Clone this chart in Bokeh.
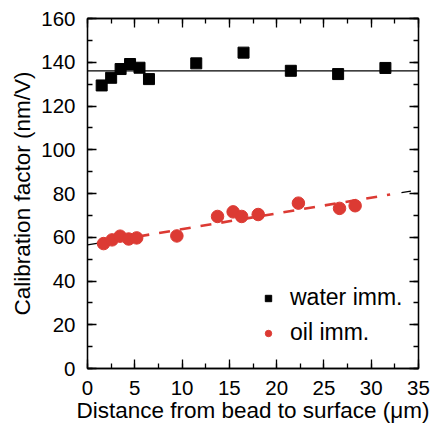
from bokeh.plotting import figure
from bokeh.models import (LinearAxis, SingleIntervalTicker, Range1d, Legend, LegendItem,
                          CustomJSTickFormatter)
from bokeh.embed import file_html
from bokeh.resources import INLINE

# ---- data ----
water_x = [1.5, 2.5, 3.5, 4.5, 5.5, 6.5, 11.5, 16.5, 21.5, 26.5, 31.5]
water_y = [129.4, 132.9, 136.9, 139.2, 137.5, 132.3, 139.5, 144.4, 136.1, 134.6, 137.4]
oil_x = [1.7, 2.6, 3.45, 4.35, 5.2, 9.45, 13.75, 15.4, 16.3, 18.05, 22.3, 26.65, 28.3]
oil_y = [57.1, 58.8, 60.5, 59.2, 59.7, 60.6, 69.5, 71.6, 69.5, 70.4, 75.6, 73.2, 74.4]
water_mean = 136.1
oil_fit_intercept = 56.5
oil_fit_slope = 0.72
oil_fit_red_x = [1.0, 32.0]
oil_fit_black_left_x = [0.0, 1.0]
oil_fit_black_right_x = [33.2, 34.2]
x_range = (0, 35)
y_range = (0, 160)

FONT = "Liberation Sans"
RED = "#dc3a33"

p = figure(width=432, height=425, output_backend="svg", toolbar_location=None,
           x_range=Range1d(*x_range), y_range=Range1d(*y_range),
           min_border_left=87, min_border_right=14, min_border_top=18, min_border_bottom=40)
p.background_fill_color = "white"
p.border_fill_color = "white"
p.outline_line_color = "black"
p.outline_line_width = 1.3
p.grid.visible = False

xt = SingleIntervalTicker(interval=5, num_minor_ticks=2)
yt = SingleIntervalTicker(interval=20, num_minor_ticks=2)

def style(ax, ticker, labels=True):
    ax.ticker = ticker
    ax.axis_line_color = "black"
    ax.axis_line_width = 1.3
    ax.major_tick_in = 9
    ax.major_tick_out = 0
    ax.minor_tick_in = 5
    ax.minor_tick_out = 0
    ax.major_tick_line_color = "black"
    ax.minor_tick_line_color = "black"
    ax.major_tick_line_width = 1.3
    ax.minor_tick_line_width = 1.3
    if labels:
        ax.major_label_text_font = FONT
        ax.major_label_text_font_size = "20.5px"
        ax.major_label_text_color = "black"
        ax.axis_label_text_font = FONT
        ax.axis_label_text_font_size = "22.5px"
        ax.axis_label_text_font_style = "normal"
        ax.axis_label_text_color = "black"
    else:
        ax.formatter = CustomJSTickFormatter(code="return ''")
        ax.major_label_standoff = 0

style(p.xaxis[0], xt)
style(p.yaxis[0], yt)
p.xaxis[0].axis_label = "Distance from bead to surface (\u03bcm)"
p.yaxis[0].axis_label = "Calibration factor (nm/V)"
p.xaxis[0].major_label_standoff = 12
p.yaxis[0].major_label_standoff = 12
p.xaxis[0].axis_label_standoff = 0
p.yaxis[0].axis_label_standoff = 3

ax_r = LinearAxis()
style(ax_r, SingleIntervalTicker(interval=20, num_minor_ticks=2), labels=False)
p.add_layout(ax_r, "right")
ax_t = LinearAxis()
style(ax_t, SingleIntervalTicker(interval=5, num_minor_ticks=2), labels=False)
p.add_layout(ax_t, "above")

# water mean line
p.line(list(x_range), [water_mean, water_mean], line_color="black", line_width=1.3)

# oil fit lines
def fit(xs):
    return [oil_fit_intercept + oil_fit_slope * x for x in xs]

p.line(oil_fit_red_x, fit(oil_fit_red_x), line_color=RED, line_width=2.6, line_dash="11 10")
p.line(oil_fit_black_left_x, fit(oil_fit_black_left_x), line_color="black", line_width=1.3)
p.line(oil_fit_black_right_x, fit(oil_fit_black_right_x), line_color="black", line_width=1.3)

rw = p.scatter(water_x, water_y, marker="square", size=11, fill_color="black", line_color="black")
ro = p.scatter(oil_x, oil_y, marker="circle", size=12.5, fill_color=RED, line_color=RED)

legend = Legend(items=[LegendItem(label="water imm.", renderers=[rw]),
                       LegendItem(label="oil imm.", renderers=[ro])],
                location=(173, 22))
legend.background_fill_alpha = 0
legend.border_line_alpha = 0
legend.label_text_font = FONT
legend.label_text_font_size = "23px"
legend.label_text_color = "black"
legend.glyph_width = 16
legend.glyph_height = 24
legend.label_height = 24
legend.label_standoff = 14
legend.spacing = 8
legend.padding = 0
legend.margin = 0
p.add_layout(legend, "center")

open("out.html", "w").write(file_html(p, INLINE))
